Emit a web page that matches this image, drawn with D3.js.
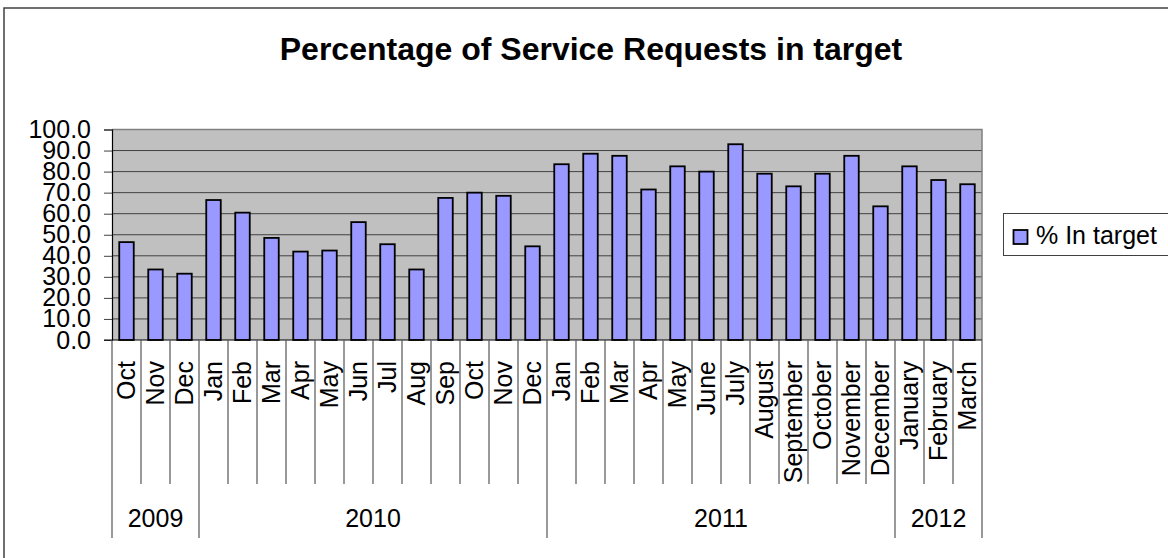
<!DOCTYPE html>
<html><head><meta charset="utf-8">
<script src="https://cdn.jsdelivr.net/npm/d3@7"></script>
<style>
html,body{margin:0;padding:0;background:#fff;}
svg{display:block;font-family:Arial,"Liberation Sans",sans-serif;}
</style></head>
<body><svg id="c" width="1168" height="558"></svg>
<script>
const months = ["Oct","Nov","Dec","Jan","Feb","Mar","Apr","May","Jun","Jul","Aug","Sep","Oct","Nov","Dec",
  "Jan","Feb","Mar","Apr","May","June","July","August","September","October","November","December",
  "January","February","March"];
const values = [46.5,33.5,31.5,66.5,60.5,48.5,42,42.5,56,45.5,33.5,67.5,70,68.5,44.5,
  83.5,88.5,87.5,71.5,82.5,80,93,79,73,79,87.5,63.5,82.5,76,74];
const years = ["2009","2010","2011","2012"];
const yearCounts = [3,12,12,3];
const yTicks = [0,10,20,30,40,50,60,70,80,90,100];
const seriesName = "% In target";
const title = "Percentage of Service Requests in target";

const svg = d3.select("#c");
const L = 112, R = 982, T = 129.5, B = 340;
const x = d3.scaleBand().domain(d3.range(months.length)).range([L, R]).paddingInner(0).paddingOuter(0);
const y = d3.scaleLinear().domain([0,100]).range([B, T]);

// outer border
svg.append("rect").attr("x",4).attr("y",8).attr("width",1200).attr("height",600)
  .attr("fill","none").attr("stroke","#404040").attr("stroke-width",1.5);

// title
svg.append("text").attr("x",591).attr("y",60).attr("text-anchor","middle")
  .attr("font-size",32).attr("font-weight","bold").text(title);

// plot background
svg.append("rect").attr("x",L).attr("y",T).attr("width",R-L).attr("height",B-T).attr("fill","#C0C0C0");

// gridlines
svg.append("g").selectAll("line").data(yTicks.filter(d=>d>0 && d<100)).join("line")
  .attr("x1",L).attr("x2",R).attr("y1",d=>y(d)).attr("y2",d=>y(d))
  .attr("stroke","#404040").attr("stroke-width",1);
// plot border top/right
svg.append("path").attr("d",`M${L},${T}H${R}V${B}`).attr("fill","none").attr("stroke","#808080").attr("stroke-width",1.5);

// bars
const bw = x.bandwidth()*0.5;
svg.append("g").selectAll("rect").data(values).join("rect")
  .attr("x",(d,i)=>x(i)+x.bandwidth()/2-bw/2).attr("width",bw)
  .attr("y",d=>y(d)).attr("height",d=>B-y(d))
  .attr("fill","#9999FF").attr("stroke","#000").attr("stroke-width",1.8);

// y axis
const yAxis = d3.axisLeft(y).tickValues(yTicks).tickFormat(d3.format(".1f")).tickSize(8).tickPadding(13);
const ga = svg.append("g").attr("transform",`translate(${L},0)`).call(yAxis);
ga.select(".domain").attr("stroke","#000").attr("stroke-width",1.2);
ga.selectAll(".tick line").attr("stroke","#404040");
ga.selectAll("text").attr("font-size",25).attr("fill","#000").attr("font-family","Arial, 'Liberation Sans', sans-serif");

// x axis baseline
svg.append("line").attr("x1",L-8).attr("x2",R).attr("y1",B).attr("y2",B).attr("stroke","#000").attr("stroke-width",1.2);

// month boundaries
const yearStarts = [];
let acc = 0;
yearCounts.forEach(c=>{yearStarts.push(acc); acc+=c;});
const boundaries = d3.range(months.length+1);
svg.append("g").selectAll("line").data(boundaries).join("line")
  .attr("x1",i=> i<months.length ? x(i) : R).attr("x2",i=> i<months.length ? x(i) : R)
  .attr("y1",B).attr("y2",i=> (yearStarts.includes(i)||i===months.length) ? 538 : 484)
  .attr("stroke","#555").attr("stroke-width",1.2);

// month labels
svg.append("g").selectAll("text").data(months).join("text")
  .attr("transform",(d,i)=>`translate(${x(i)+x.bandwidth()/2},361) rotate(-90)`)
  .attr("text-anchor","end").attr("dy","0.35em").attr("font-size",25).text(d=>d);

// year labels
svg.append("g").selectAll("text").data(years).join("text")
  .attr("x",(d,i)=>{const s=x(yearStarts[i]); const e = yearStarts[i]+yearCounts[i] < months.length ? x(yearStarts[i]+yearCounts[i]) : R; return (s+e)/2;})
  .attr("y",527).attr("text-anchor","middle").attr("font-size",25).text(d=>d);

// legend
const lg = svg.append("g");
lg.append("rect").attr("x",1003.5).attr("y",213.5).attr("width",170).attr("height",42)
  .attr("fill","#fff").attr("stroke","#404040").attr("stroke-width",1);
lg.append("rect").attr("x",1013.5).attr("y",230).attr("width",14).attr("height",14)
  .attr("fill","#9999FF").attr("stroke","#000").attr("stroke-width",1.8);
lg.append("text").attr("x",1036).attr("y",244).attr("font-size",25).text(seriesName);
</script></body></html>
